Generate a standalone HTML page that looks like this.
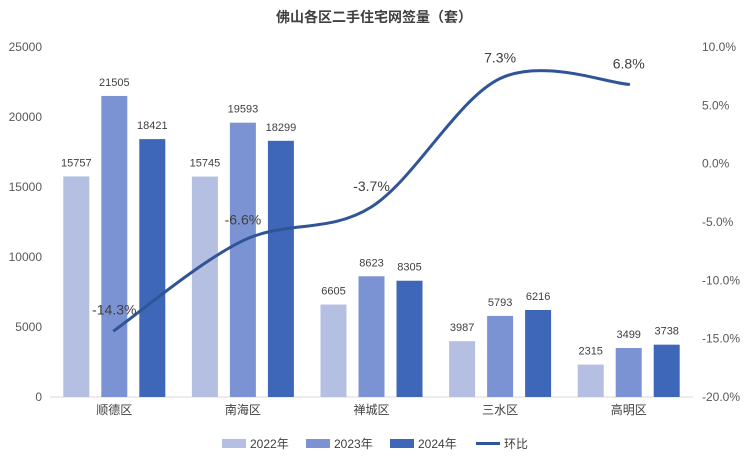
<!DOCTYPE html>
<html><head><meta charset="utf-8"><style>
body{margin:0;background:#fff;}
svg text{font-family:"Liberation Sans","Noto Sans CJK SC",sans-serif;}
</style></head><body>
<svg id="c" width="749" height="453" xmlns="http://www.w3.org/2000/svg">
<rect width="749" height="453" fill="#fff"/>
<text x="374" y="22" text-anchor="middle" font-size="14" font-weight="bold" fill="#404040">佛山各区二手住宅网签量（套）</text>
<g id="axes"></g><g id="bars"></g><g id="line"></g><g id="legend"></g>
</svg>
<script>
const categories=["顺德区","南海区","禅城区","三水区","高明区"];
const s2022=[15757,15745,6605,3987,2315];
const s2023=[21505,19593,8623,5793,3499];
const s2024=[18421,18299,8305,6216,3738];
const ratio=[-14.3,-6.6,-3.7,7.3,6.8];
const leftTicks=[0,5000,10000,15000,20000,25000];
const rightTicks=[-20,-15,-10,-5,0,5,10];
const seriesNames=["2022年","2023年","2024年"];
const colors=["#b4bfe1","#7b93d3","#3e67b9"];
const lineColor="#2f5597";
const NS="http://www.w3.org/2000/svg";
const x0=50,x1=693,yTop=47,yBot=397;
const yL=v=>yBot-(v/25000)*(yBot-yTop);
const yR=v=>yBot-((v+20)/30)*(yBot-yTop);
const band=(x1-x0)/categories.length;
const xC=i=>x0+band*(i+0.5);
function mk(tag,attrs,parent,txt){const e=document.createElementNS(NS,tag);for(const k in attrs)e.setAttribute(k,attrs[k]);if(txt!==undefined)e.textContent=txt;document.getElementById(parent).appendChild(e);return e;}
const ax=document.getElementById('axes');
let e=mk('line',{x1:x0,x2:x1,y1:yBot,y2:yBot,stroke:'#d9d9d9'},'axes');


leftTicks.forEach(t=>{const el=mk('text',{x:42,y:yL(t)+4,'text-anchor':'end','font-size':12,fill:'#595959'},'axes',String(t));

});
rightTicks.forEach(t=>{const el=mk('text',{x:702,y:yR(t)+4,'text-anchor':'start','font-size':12,fill:'#595959'},'axes',t.toFixed(1)+'%');

});
categories.forEach((c,i)=>{const el=mk('text',{x:xC(i),y:yBot+17,'text-anchor':'middle','font-size':12,fill:'#404040'},'axes',c);

});
const series=[s2022,s2023,s2024];const offs=[-38,0,38];const bw=26;
series.forEach((s,si)=>s.forEach((v,i)=>{const cx=xC(i)+offs[si];
const r=mk('rect',{x:cx-bw/2,y:yL(v),width:bw,height:yBot-yL(v),fill:colors[si]},'bars');


const t=mk('text',{x:cx,y:yL(v)-10,'text-anchor':'middle','font-size':11,fill:'#404040'},'bars',String(v));

}));
const pts=ratio.map((v,i)=>[xC(i),yR(v)]);
let d='M'+pts[0][0]+','+pts[0][1];
for(let i=0;i<pts.length-1;i++){const p0=pts[Math.max(0,i-1)],p1=pts[i],p2=pts[i+1],p3=pts[Math.min(pts.length-1,i+2)];
const c1=[p1[0]+(p2[0]-p0[0])/6,p1[1]+(p2[1]-p0[1])/6],c2=[p2[0]-(p3[0]-p1[0])/6,p2[1]-(p3[1]-p1[1])/6];
d+=` C${c1[0]},${c1[1]} ${c2[0]},${c2[1]} ${p2[0]},${p2[1]}`;}
const ln=mk('path',{d:d,fill:'none',stroke:lineColor,'stroke-width':3,'stroke-linecap':'round'},'line');


ratio.forEach((v,i)=>{const t=mk('text',{x:pts[i][0],y:pts[i][1]-16,'text-anchor':'middle','font-size':14,fill:'#404040'},'line',v.toFixed(1)+'%');

});
const lx=[222,306,390,476];
seriesNames.forEach((n,i)=>{const g=mk('g',{},'legend');


const r=document.createElementNS(NS,'rect');r.setAttribute('x',lx[i]);r.setAttribute('y',439);r.setAttribute('width',24);r.setAttribute('height',9);r.setAttribute('fill',colors[i]);g.appendChild(r);
const t=document.createElementNS(NS,'text');t.setAttribute('x',lx[i]+28);t.setAttribute('y',448);t.setAttribute('font-size',12);t.setAttribute('fill','#404040');t.textContent=n;g.appendChild(t);});
const g=mk('g',{},'legend');


const l=document.createElementNS(NS,'line');l.setAttribute('x1',lx[3]);l.setAttribute('x2',lx[3]+24);l.setAttribute('y1',443.5);l.setAttribute('y2',443.5);l.setAttribute('stroke',lineColor);l.setAttribute('stroke-width',3);g.appendChild(l);
const t=document.createElementNS(NS,'text');t.setAttribute('x',lx[3]+28);t.setAttribute('y',448);t.setAttribute('font-size',12);t.setAttribute('fill','#404040');t.textContent='环比';g.appendChild(t);
</script>
</body></html>
